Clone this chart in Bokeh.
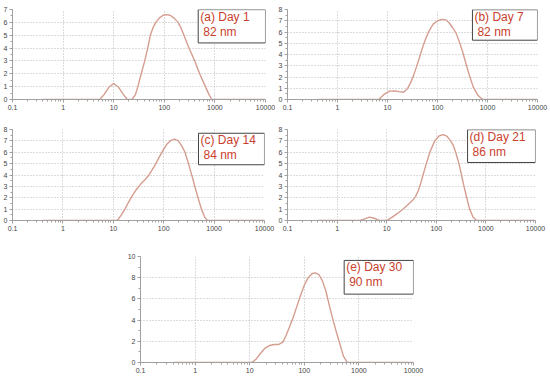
from bokeh.plotting import figure
from bokeh.models import (FixedTicker, CustomJSTickFormatter, BoxAnnotation, Label,
                          Range1d, SingleIntervalTicker, Spacer)
from bokeh.layouts import row, column
from bokeh.embed import file_html
from bokeh.resources import INLINE

# ---------------- data ----------------
X_TICKS = [0.1, 1, 10, 100, 1000, 10000]

a_size = [0.4, 5.3, 6.5, 8, 10, 12.5, 15.5, 18.5, 23, 27, 30, 35, 41, 47, 53, 60, 68, 80,
          95, 112, 130, 155, 187, 215, 245, 300, 400, 500, 650, 760, 870, 10000]
a_int = [0, 0, 0.4, 0.95, 1.24, 0.95, 0.4, 0.02, 0, 0.4, 1.0, 2.0, 3.0, 4.0, 5.0, 5.6, 6.0, 6.35,
         6.55, 6.6, 6.55, 6.35, 6.0, 5.55, 5.0, 4.1, 3.0, 2.0, 1.0, 0.4, 0, 0]

b_size = [0.4, 6.7, 8.5, 11, 14, 17, 21, 25, 29, 33, 38, 44, 51, 58, 68, 82, 100, 118, 132,
          150, 172, 200, 235, 275, 320, 370, 430, 520, 650, 800, 10000]
b_int = [0, 0, 0.45, 0.74, 0.76, 0.7, 0.65, 0.95, 1.5, 2.1, 2.9, 3.8, 4.7, 5.4, 6.1, 6.7, 7.0,
         7.1, 7.12, 7.05, 6.8, 6.4, 5.9, 5.1, 4.2, 3.2, 2.2, 1.1, 0.35, 0, 0]

c_size = [0.4, 12, 14, 17, 20, 24, 29, 35, 42, 50, 58, 68, 80, 95, 115, 140, 165, 195, 225,
          265, 310, 365, 420, 480, 560, 650, 740, 10000]
c_int = [0, 0, 0.4, 1.0, 1.6, 2.2, 2.75, 3.2, 3.55, 3.95, 4.4, 4.9, 5.5, 6.1, 6.7, 7.05, 7.15,
         7.0, 6.6, 6.0, 5.0, 3.9, 2.9, 2.0, 1.0, 0.3, 0, 0]

d_size = [0.4, 2.9, 3.6, 4.5, 5.6, 7, 10, 12.5, 15, 18, 22, 27, 33, 38, 43, 48, 54, 63, 74,
          93, 115, 140, 165, 194, 220, 246, 287, 322, 362, 410, 470, 550, 650, 10000]
d_int = [0, 0, 0.15, 0.3, 0.2, 0, 0, 0.25, 0.5, 0.75, 1.05, 1.4, 1.75, 2.1, 2.6, 3.2, 4.0, 5.0,
         6.0, 7.0, 7.45, 7.55, 7.4, 7.0, 6.6, 6.0, 5.0, 4.0, 3.0, 2.0, 1.0, 0.3, 0, 0]

e_size = [0.4, 11, 13, 16, 19, 23, 28, 34, 40, 46, 53, 62, 72, 85, 100, 118, 140, 160, 185,
          215, 250, 290, 340, 390, 440, 520, 615, 10000]
e_int = [0, 0, 0.3, 0.9, 1.35, 1.6, 1.7, 1.7, 1.9, 2.5, 3.3, 4.2, 5.2, 6.3, 7.3, 8.0, 8.4,
         8.45, 8.3, 7.7, 6.7, 5.3, 3.9, 2.8, 1.9, 0.6, 0, 0]

tags = ["(a) Day 1", "(b) Day 7", "(c) Day 14", "(d) Day 21", "(e) Day 30"]
sizes_nm = ["82 nm", "82 nm", "84 nm", "86 nm", "90 nm"]
y_max = [7, 8, 8, 8, 10]
y_step = [1, 1, 1, 1, 2]

# ---------------- styling ----------------
CURVE = "#d59d8f"
GRID = "#b8b8b8"
AXIS = "#a0a0a0"
TXT = "#c9402c"
FONT = "Liberation Sans"


def panel(sx, sy, ymax, ystep, w, h, bl, br, bt, bb, box, tag, nm):
    p = figure(width=w, height=h, x_axis_type="log",
               x_range=Range1d(0.1, 10000), y_range=Range1d(0, ymax),
               output_backend="svg", toolbar_location=None,
               min_border_left=bl, min_border_right=br,
               min_border_top=bt, min_border_bottom=bb)
    p.outline_line_color = None
    p.background_fill_color = "white"
    minor = [m * 10 ** k for k in range(-1, 4) for m in range(2, 10)]
    p.xaxis.ticker = FixedTicker(ticks=X_TICKS, minor_ticks=minor)
    p.xaxis.formatter = CustomJSTickFormatter(code="return tick.toString();")
    p.yaxis.ticker = SingleIntervalTicker(interval=ystep, num_minor_ticks=2)
    for ax in (p.xaxis[0], p.yaxis[0]):
        ax.axis_line_color = AXIS
        ax.major_tick_line_color = AXIS
        ax.minor_tick_line_color = AXIS
        ax.major_tick_out = 3
        ax.major_tick_in = 0
        ax.minor_tick_out = 2
        ax.minor_tick_in = 0
        ax.major_label_text_font_size = "7px"
        ax.major_label_text_color = "#444444"
        ax.major_label_text_font = FONT
        ax.major_label_standoff = 2
    for g in (p.xgrid[0], p.ygrid[0]):
        g.grid_line_color = GRID
        g.grid_line_dash = "1 2"
        g.grid_line_width = 1
    p.line(sx, sy, line_color=CURVE, line_width=1.4)

    left, right, top, bottom = box
    p.add_layout(BoxAnnotation(left=left, right=right, top=top, bottom=bottom,
                               fill_color="white", fill_alpha=1.0,
                               line_color="#444444", line_alpha=1.0, line_width=1))
    p.add_layout(Label(x=left, y=top, x_offset=2, y_offset=-14, text=tag,
                       text_font=FONT, text_font_size="12px", text_color=TXT))
    p.add_layout(Label(x=left, y=top, x_offset=5, y_offset=-29, text=nm,
                       text_font=FONT, text_font_size="12px", text_color=TXT))
    return p


pa = panel(a_size, a_int, y_max[0], y_step[0], 275, 116, 9, 10, 7, 17,
           (468, 9990, 6.99, 4.4), tags[0], sizes_nm[0])
pb = panel(b_size, b_int, y_max[1], y_step[1], 275, 116, 9, 13, 9, 16,
           (500, 9990, 7.98, 5.27), tags[1], sizes_nm[1])
pc = panel(c_size, c_int, y_max[2], y_step[2], 275, 120, 9, 11, 10, 12,
           (490, 9990, 7.67, 4.9), tags[2], sizes_nm[2])
pd = panel(d_size, d_int, y_max[3], y_step[3], 275, 120, 9, 15, 13, 16,
           (427, 9990, 7.98, 5.1), tags[3], sizes_nm[3])
pe = panel(e_size, e_int, y_max[4], y_step[4], 303, 139, 13, 14, 20, 12,
           (537, 9990, 9.63, 6.45), tags[4], sizes_nm[4])

layout = column(row(pa, pb), row(pc, pd), row(Spacer(width=124, height=139), pe))

open("out.html", "w").write(file_html(layout, INLINE))
